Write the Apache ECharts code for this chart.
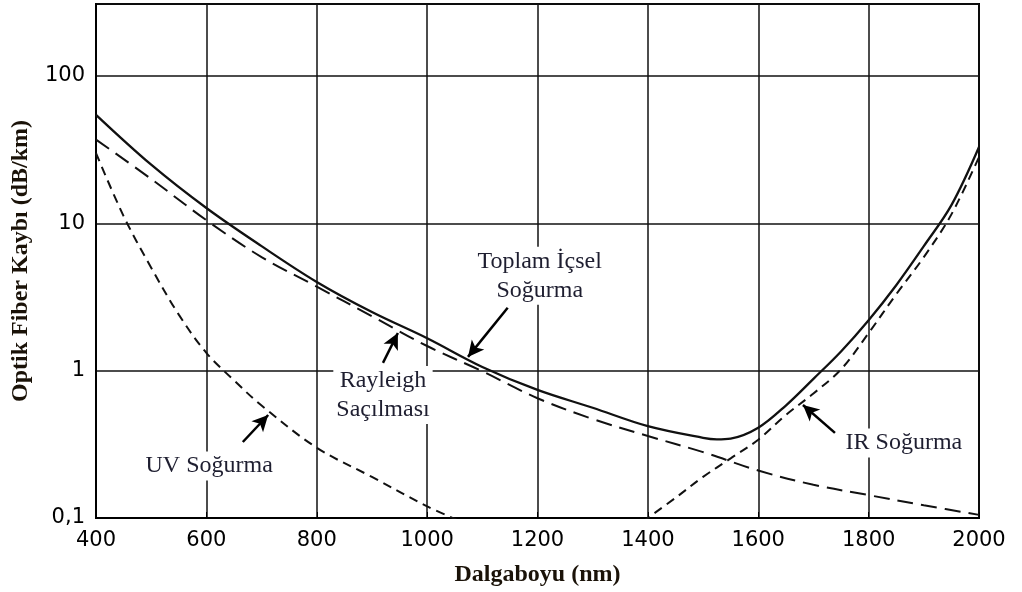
<!DOCTYPE html>
<html>
<head>
<meta charset="utf-8">
<script src="https://cdn.jsdelivr.net/npm/echarts@6/dist/echarts.min.js"></script>
<style>
  html, body { margin: 0; padding: 0; background: #fff; }
  #chart { width: 1022px; height: 592px; }
</style>
</head>
<body>
<div id="chart"></div>
<script>
  // wavelength (nm) / loss (dB/km)
  const totalLoss = [
    [400, 54.5], [500, 25], [600, 12.7], [700, 7.0], [800, 4.0], [900, 2.5],
    [1000, 1.66], [1100, 1.06], [1200, 0.74], [1300, 0.56], [1400, 0.42],
    [1500, 0.35], [1525, 0.342], [1550, 0.346], [1600, 0.41], [1650, 0.58],
    [1700, 0.88], [1750, 1.35], [1800, 2.2], [1850, 3.8], [1900, 7.0],
    [1950, 13.3], [2000, 33]
  ]
  const rayleigh = [
    [400, 37], [500, 20], [600, 10.5], [700, 5.9], [800, 3.72], [900, 2.34],
    [1000, 1.47], [1100, 0.99], [1200, 0.65], [1300, 0.47], [1400, 0.36],
    [1500, 0.28], [1600, 0.21], [1700, 0.168], [1800, 0.143], [1900, 0.122],
    [2000, 0.105]
  ]
  const uvAbsorption = [
    [400, 30], [450, 11.2], [500, 5.0], [550, 2.4], [600, 1.32], [650, 0.86],
    [700, 0.58], [800, 0.30], [900, 0.19], [1000, 0.12], [1060, 0.095]
  ]
  const irAbsorption = [
    [1390, 0.094], [1450, 0.137], [1500, 0.19], [1550, 0.254], [1600, 0.34],
    [1650, 0.50], [1700, 0.70], [1750, 1.02], [1800, 1.8], [1850, 3.3],
    [1900, 5.9], [1950, 11.5], [2000, 28.2]
  ]
  const xTicks = { min: 400, max: 2000, step: 200 }
  const yRange = { min: 0.1, max: 308 }

  // annotations: [text, [nm, loss]] and arrows: [from, to]
  const notes = [
    ['Toplam İçsel\nSoğurma', [1204, 4.4]],
    ['Rayleigh\nSaçılması', [920, 0.684]],
    ['UV Soğurma', [605, 0.225]],
    ['IR Soğurma', [1864, 0.323]]
  ]
  const arrows = [
    [[1146, 2.67], [1074, 1.24]],
    [[920, 1.13], [947, 1.80]],
    [[666, 0.328], [712, 0.50]],
    [[1739, 0.378], [1681, 0.585]]
  ]

  const chart = echarts.init(document.getElementById('chart'))
  const serif = '"Liberation Serif", "Times New Roman", serif'
  const sans = '"DejaVu Sans", Arial, sans-serif'

  function curve(name, data, type, dash) {
    return {
      name,
      type: 'line',
      data,
      smooth: 0.35,
      symbol: 'none',
      clip: true,
      z: 3,
      lineStyle: { color: '#111', width: type === 'solid' ? 2.3 : 2, type: dash ? dash : type }
    }
  }

  chart.setOption({
    animation: false,
    backgroundColor: '#fff',
    grid: {
      left: 96, right: 43, top: 4, bottom: 74,
      show: true, borderColor: '#000', borderWidth: 2
    },
    xAxis: {
      type: 'value',
      min: xTicks.min,
      max: xTicks.max,
      interval: xTicks.step,
      name: 'Dalgaboyu (nm)',
      nameLocation: 'middle',
      nameGap: 45,
      nameTextStyle: { fontFamily: serif, fontWeight: 'bold', fontSize: 24, color: '#1a1208' },
      axisLine: { lineStyle: { color: '#000', width: 2 } },
      axisTick: { inside: true, length: 6, lineStyle: { color: '#000' } },
      axisLabel: {
        fontFamily: sans, fontSize: 21, color: '#000', margin: 12,
        formatter: v => String(v)
      },
      splitLine: { lineStyle: { color: '#111', width: 1.5 } }
    },
    yAxis: {
      type: 'log',
      logBase: 10,
      min: yRange.min,
      max: yRange.max,
      name: 'Optik Fiber Kaybı (dB/km)',
      nameLocation: 'middle',
      nameGap: 63,
      nameTextStyle: { fontFamily: serif, fontWeight: 'bold', fontSize: 24, color: '#1a1208' },
      axisLine: { lineStyle: { color: '#000', width: 2 } },
      axisTick: { show: false },
      axisLabel: {
        fontFamily: sans,
        fontSize: 21,
        color: '#000',
        margin: 11,
        showMaxLabel: false,
        formatter: v => (v < 0.5 ? '0,1' : String(Math.round(v)))
      },
      splitLine: { lineStyle: { color: '#111', width: 1.5 } }
    },
    series: [
      curve('Toplam İçsel Soğurma', totalLoss, 'solid'),
      curve('Rayleigh Saçılması', rayleigh, 'dashed', [16, 8]),
      curve('UV Soğurma', uvAbsorption, 'dashed', [9, 6]),
      curve('IR Soğurma', irAbsorption, 'dashed', [9, 6]),
      {
        name: 'notes',
        type: 'line',
        data: [],
        z: 5,
        markPoint: {
          symbol: 'rect',
          symbolSize: 0,
          data: notes.map(([text, coord]) => ({
            coord,
            label: {
              show: true,
              position: 'inside',
              formatter: text,
              fontFamily: serif,
              fontSize: 24,
              lineHeight: 29,
              color: '#1e1e30',
              backgroundColor: '#fff',
              padding: [0, 3]
            }
          }))
        },
        markLine: {
          silent: true,
          symbol: ['none', 'arrow'],
          symbolSize: [12, 16],
          label: { show: false },
          lineStyle: { color: '#000', width: 2.5, type: 'solid' },
          data: arrows.map(([from, to]) => [{ coord: from }, { coord: to }])
        }
      }
    ]
  })
</script>
</body>
</html>
